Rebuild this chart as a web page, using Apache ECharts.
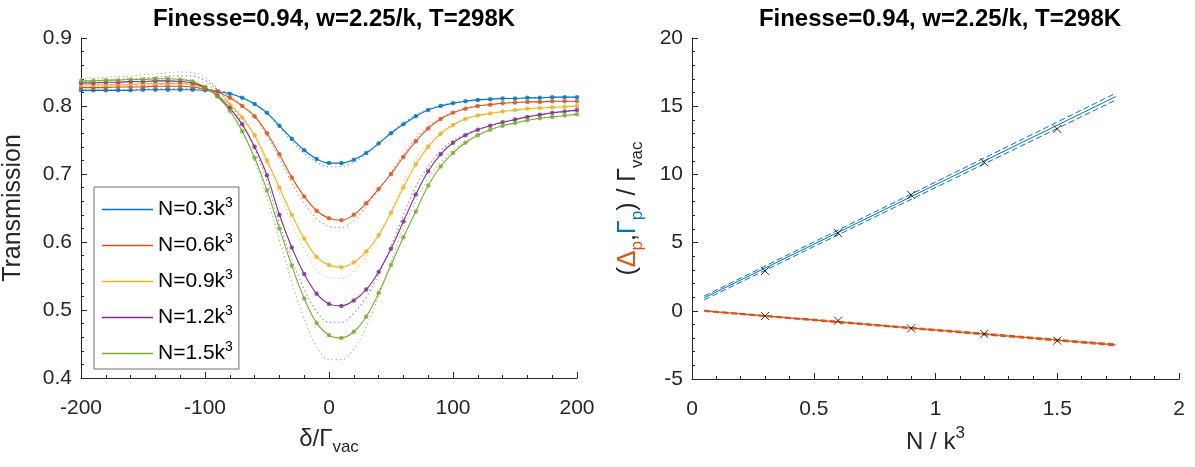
<!DOCTYPE html>
<html><head><meta charset="utf-8">
<script src="https://cdn.jsdelivr.net/npm/echarts@6/dist/echarts.min.js"></script>
<style>html,body{margin:0;padding:0;background:#fff}#c{width:1195px;height:467px}</style>
</head><body><div id="c"></div>
<script>
// ---------- data: left panel ----------
const deltaX = [-200,-190,-180,-170,-160,-150,-140,-130,-120,-110,-100,-90,-80,-70,-60,-50,-40,-30,-20,-10,0,10,20,30,40,50,60,70,80,90,100,110,120,130,140,150,160,170,180,190,200];
const legendNames = ['N=0.3','N=0.6','N=0.9','N=1.2','N=1.5'];
const trans03 = [.823,.823,.823,.823,.823,.824,.824,.824,.824,.824,.823,.821,.818,.812,.803,.790,.771,.752,.735,.722,.716,.716,.721,.731,.745,.760,.773,.785,.794,.800,.804,.807,.809,.810,.811,.811,.812,.812,.813,.813,.813];
const trans06 = [.827,.827,.827,.828,.828,.828,.829,.829,.829,.828,.825,.821,.812,.800,.785,.760,.729,.695,.667,.646,.635,.632,.640,.657,.678,.700,.725,.748,.767,.781,.790,.796,.800,.802,.804,.805,.806,.806,.807,.807,.807];
const trans09 = [.831,.831,.831,.832,.832,.833,.833,.833,.833,.831,.826,.816,.802,.783,.757,.720,.680,.640,.605,.578,.566,.563,.570,.586,.610,.643,.680,.714,.740,.759,.772,.781,.786,.789,.792,.794,.796,.797,.798,.799,.800];
const trans12 = [.834,.834,.835,.835,.836,.836,.837,.837,.836,.834,.827,.815,.797,.773,.740,.698,.640,.592,.553,.524,.509,.506,.514,.530,.556,.590,.630,.670,.704,.729,.746,.757,.765,.771,.776,.780,.784,.787,.790,.792,.794];
const trans15 = [.837,.837,.838,.838,.839,.839,.840,.840,.839,.836,.828,.814,.793,.763,.724,.676,.620,.565,.517,.481,.463,.459,.468,.490,.525,.566,.607,.645,.683,.711,.731,.746,.757,.765,.771,.775,.779,.782,.784,.786,.788];
const model03 = [.8235,.8236,.8236,.8238,.8238,.8251,.8251,.8254,.8257,.8260,.8251,.8228,.8191,.8123,.8024,.7884,.7685,.7484,.7305,.7168,.7106,.7112,.7172,.7288,.7443,.7608,.7750,.7873,.7955,.8009,.8046,.8073,.8092,.8100,.811,.811,.812,.812,.8129,.8129,.8129];
const model06 = [.828,.8283,.8283,.8297,.8297,.8303,.8313,.8320,.8326,.8323,.8296,.8250,.8143,.8007,.7837,.7564,.7234,.6871,.6571,.6345,.6231,.6214,.6318,.6521,.6764,.7017,.7293,.7530,.7703,.7830,.7913,.7967,.8003,.802,.804,.805,.806,.806,.8067,.8067,.8067];
const model09 = [.8326,.8331,.8331,.8346,.8346,.8366,.8366,.8377,.8387,.8378,.8333,.8222,.8056,.7840,.7549,.7143,.6712,.6275,.5894,.5598,.5473,.5464,.5570,.5782,.6074,.6456,.6868,.7218,.7452,.7621,.7741,.7820,.7865,.789,.792,.794,.796,.797,.7975,.7985,.7995];
const model12 = [.8363,.837,.838,.8388,.8398,.8413,.8423,.8438,.8443,.8438,.8375,.824,.8023,.7745,.737,.6898,.6273,.574,.5305,.4978,.482,.482,.4953,.5188,.5523,.5938,.6398,.6813,.7115,.7335,.749,.7585,.7658,.771,.776,.780,.784,.787,.7893,.7913,.7933];
const model15 = [.840,.841,.842,.843,.844,.846,.847,.849,.850,.849,.842,.826,.800,.765,.720,.665,.603,.541,.487,.446,.427,.427,.443,.475,.520,.571,.620,.660,.693,.717,.735,.748,.758,.765,.771,.775,.779,.782,.783,.785,.787];

// ---------- data: right panel ----------
const nPts = [0.3,0.6,0.9,1.2,1.5];
const gammaPts = [2.92,5.70,8.49,10.89,13.33];
const shiftPts = [-0.38,-0.72,-1.29,-1.70,-2.19];
const nLine = [0.05,1.74];
const gammaFit = [0.95,15.70];
const gammaUp = [1.08,15.95];
const gammaLo = [0.80,15.45];
const shiftFit = [-0.01,-2.50];
const shiftUp = [0.03,-2.44];
const shiftLo = [-0.05,-2.56];

const colors = ['#0072BD','#D95319','#EDB120','#7E2F8E','#77AC30'];
const transAll = [trans03,trans06,trans09,trans12,trans15];
const modelAll = [model03,model06,model09,model12,model15];
const pairs = (xs, ys) => xs.map((x,i)=>[x,ys[i]]);

const FONT = 'Liberation Sans, Arial, Helvetica, sans-serif';
const AX = '#262626';
function axisBase(){
  return {
    axisLine:{show:true,onZero:false,lineStyle:{color:AX,width:1}},
    axisTick:{show:true,inside:true,length:6,lineStyle:{color:AX}},
    minorTick:{show:true,splitNumber:5,length:3,lineStyle:{color:AX}},
    axisLabel:{color:AX,fontSize:21,fontFamily:FONT},
    splitLine:{show:false}
  };
}

const series = [];
for (let k=0;k<5;k++){
  series.push({type:'line',name:legendNames[k],xAxisIndex:0,yAxisIndex:0,data:pairs(deltaX,transAll[k]),
    smooth:0.35,symbol:'none',lineStyle:{color:colors[k],width:1.1},itemStyle:{color:colors[k]},z:3});
  series.push({type:'scatter',xAxisIndex:0,yAxisIndex:0,data:pairs(deltaX,transAll[k]),
    symbol:'circle',symbolSize:4.5,itemStyle:{color:colors[k]},z:4,silent:true});
  series.push({type:'line',xAxisIndex:0,yAxisIndex:0,data:pairs(deltaX,modelAll[k]),
    smooth:0.35,symbol:'none',lineStyle:{color:colors[k],width:1.1,type:[1.2,3],opacity:0.75},z:2,silent:true});
}
// right panel lines
const rl = (ys,color,type,w) => ({type:'line',xAxisIndex:1,yAxisIndex:1,data:pairs(nLine,ys),symbol:'none',
  lineStyle:{color:color,width:w,type:type},z:3,silent:true});
series.push(rl(gammaUp,'#0072BD',[6,3],1));
series.push(rl(gammaLo,'#0072BD',[6,3],1));
series.push(rl(gammaFit,'#0072BD','solid',1));
series.push(rl(shiftUp,'#D95319',[6,3],1.2));
series.push(rl(shiftLo,'#D95319',[6,3],1.2));
series.push(rl(shiftFit,'#D95319','solid',1.2));
const xMark = 'path://M0,0L10,10M10,0L0,10';
series.push({type:'scatter',xAxisIndex:1,yAxisIndex:1,data:pairs(nPts,gammaPts),symbol:xMark,symbolSize:8,
  itemStyle:{color:'rgba(0,0,0,0)',borderColor:'#000',borderWidth:1},z:5});
series.push({type:'scatter',xAxisIndex:1,yAxisIndex:1,data:pairs(nPts,shiftPts),symbol:xMark,symbolSize:8,
  itemStyle:{color:'rgba(0,0,0,0)',borderColor:'#000',borderWidth:1},z:5});

const titleText = 'Finesse=0.94, w=2.25/k, T=298K';
const option = {
  animation:false,
  backgroundColor:'#fff',
  title:[
    {text:titleText,left:329,top:2,textAlign:'center',textStyle:{fontSize:24,fontWeight:'bold',color:'#000',fontFamily:FONT}},
    {text:titleText,left:935,top:2,textAlign:'center',textStyle:{fontSize:24,fontWeight:'bold',color:'#000',fontFamily:FONT}}
  ],
  grid:[
    {left:81,top:38,width:496,height:340},
    {left:692,top:38,width:487,height:341}
  ],
  legend:{
    data:legendNames.map(n=>({name:n,icon:'rect'})),orient:'vertical',left:94,top:187,itemWidth:51,itemHeight:1.3,itemGap:12,
    backgroundColor:'#fff',borderColor:'#6e6e6e',borderWidth:1,padding:[9,6,5,8],
    textStyle:{fontFamily:FONT,color:'#000',rich:{
      b:{fontSize:21,fontFamily:FONT,color:'#000',lineHeight:27},
      s:{fontSize:14,fontFamily:FONT,color:'#000',lineHeight:14,verticalAlign:'top'}}},
    formatter: n => '{b|'+n+'k}{s|3}'
  },
  xAxis:[
    Object.assign(axisBase(),{type:'value',gridIndex:0,min:-200,max:200,interval:100,
      name:'{a|δ/Γ}{s|vac}',nameLocation:'middle',nameGap:44,
      nameTextStyle:{rich:{a:{fontSize:24,fontFamily:FONT,color:AX,lineHeight:34},s:{fontSize:17,fontFamily:FONT,color:AX,lineHeight:16,verticalAlign:'bottom'}}}}),
    Object.assign(axisBase(),{type:'value',gridIndex:1,min:0,max:2,interval:0.5,
      name:'{a|N / k}{s|3}',nameLocation:'middle',nameGap:46,
      nameTextStyle:{rich:{a:{fontSize:24,fontFamily:FONT,color:AX,lineHeight:34},s:{fontSize:17,fontFamily:FONT,color:AX,lineHeight:16,verticalAlign:'top'}}}})
  ],
  yAxis:[
    Object.assign(axisBase(),{type:'value',gridIndex:0,min:0.4,max:0.9,interval:0.1,
      name:'Transmission',nameLocation:'middle',nameGap:55,nameRotate:90,
      nameTextStyle:{fontSize:25,fontFamily:FONT,color:AX}}),
    Object.assign(axisBase(),{type:'value',gridIndex:1,min:-5,max:20,interval:5,
      name:'{a|(}{o|Δ}{os|p}{a|,}{bl|Γ}{bs|p}{a|) / Γ}{s|vac}',nameLocation:'middle',nameGap:46,nameRotate:90,
      nameTextStyle:{rich:{
        a:{fontSize:25,fontFamily:FONT,color:AX,lineHeight:36},
        o:{fontSize:25,fontFamily:FONT,color:'#D95319',lineHeight:36},
        bl:{fontSize:25,fontFamily:FONT,color:'#0072BD',lineHeight:36},
        os:{fontSize:17,fontFamily:FONT,color:'#D95319',lineHeight:16,verticalAlign:'bottom'},
        bs:{fontSize:17,fontFamily:FONT,color:'#0072BD',lineHeight:16,verticalAlign:'bottom'},
        s:{fontSize:17,fontFamily:FONT,color:AX,lineHeight:16,verticalAlign:'bottom'}}}})
  ],
  series:series
};
option.xAxis.forEach(a=>{a.axisLabel.margin=20;});
option.yAxis.forEach(a=>{a.axisLabel.margin=9;});
const chart = echarts.init(document.getElementById('c'),null,{renderer:'canvas'});
chart.setOption(option);
</script></body></html>
